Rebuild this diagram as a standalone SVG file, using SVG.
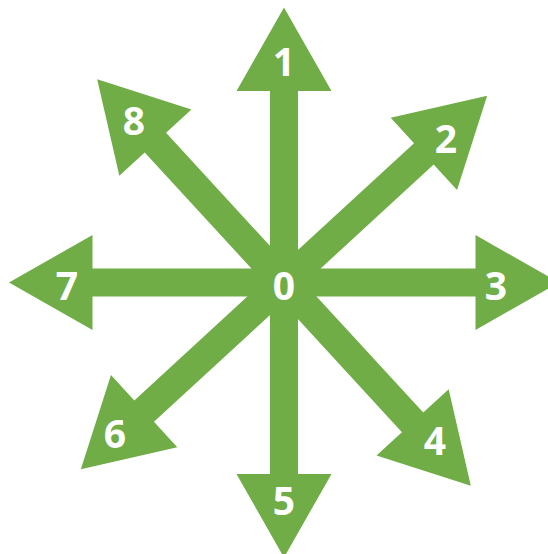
<svg xmlns="http://www.w3.org/2000/svg" xmlns:xlink="http://www.w3.org/1999/xlink" width="548" height="554" viewBox="0 0 548 554">
  <style>
    .arr { fill: #70AD47; }
    .lbl { fill: #FFFFFF; font-family: "Open Sans", "Liberation Sans", sans-serif; font-weight: bold; font-size: 39px; text-anchor: middle; }
  </style>
  <defs>
    <path id="straight" class="arr" d="M -14 0 L -14 -191.5 L -47.5 -191.5 L 0 -275 L 47.5 -191.5 L 14 -191.5 L 14 0 Z"/>
    <path id="diag" class="arr" d="M -14.5 0 L -14.5 -190 L -49 -190 L 0 -276 L 49 -190 L 14.5 -190 L 14.5 0 Z"/>
  </defs>
  <g id="connectors">
    <g id="arrow1"><use xlink:href="#straight" transform="translate(284 282.5) rotate(0)"/></g>
    <g id="arrow2"><use xlink:href="#diag" transform="translate(284 282.5) rotate(47.4)"/></g>
    <g id="arrow3"><use xlink:href="#straight" transform="translate(284 282.5) rotate(90)"/></g>
    <g id="arrow4"><use xlink:href="#diag" transform="translate(284 282.5) rotate(137.4)"/></g>
    <g id="arrow5"><use xlink:href="#straight" transform="translate(284 282.5) rotate(180)"/></g>
    <g id="arrow6"><use xlink:href="#diag" transform="translate(284 282.5) rotate(227.4)"/></g>
    <g id="arrow7"><use xlink:href="#straight" transform="translate(284 282.5) rotate(270)"/></g>
    <g id="arrow8"><use xlink:href="#diag" transform="translate(284 282.5) rotate(317.4)"/></g>
  </g>
  <g id="node0"><text class="lbl" x="284" y="300">0</text></g>
  <g id="node1"><text class="lbl" x="284" y="76">1</text></g>
  <g id="node2"><text class="lbl" x="446" y="153">2</text></g>
  <g id="node3"><text class="lbl" x="496" y="300">3</text></g>
  <g id="node4"><text class="lbl" x="435" y="455">4</text></g>
  <g id="node5"><text class="lbl" x="284" y="515">5</text></g>
  <g id="node6"><text class="lbl" x="115" y="448">6</text></g>
  <g id="node7"><text class="lbl" x="67" y="300">7</text></g>
  <g id="node8"><text class="lbl" x="134" y="135">8</text></g>
</svg>
